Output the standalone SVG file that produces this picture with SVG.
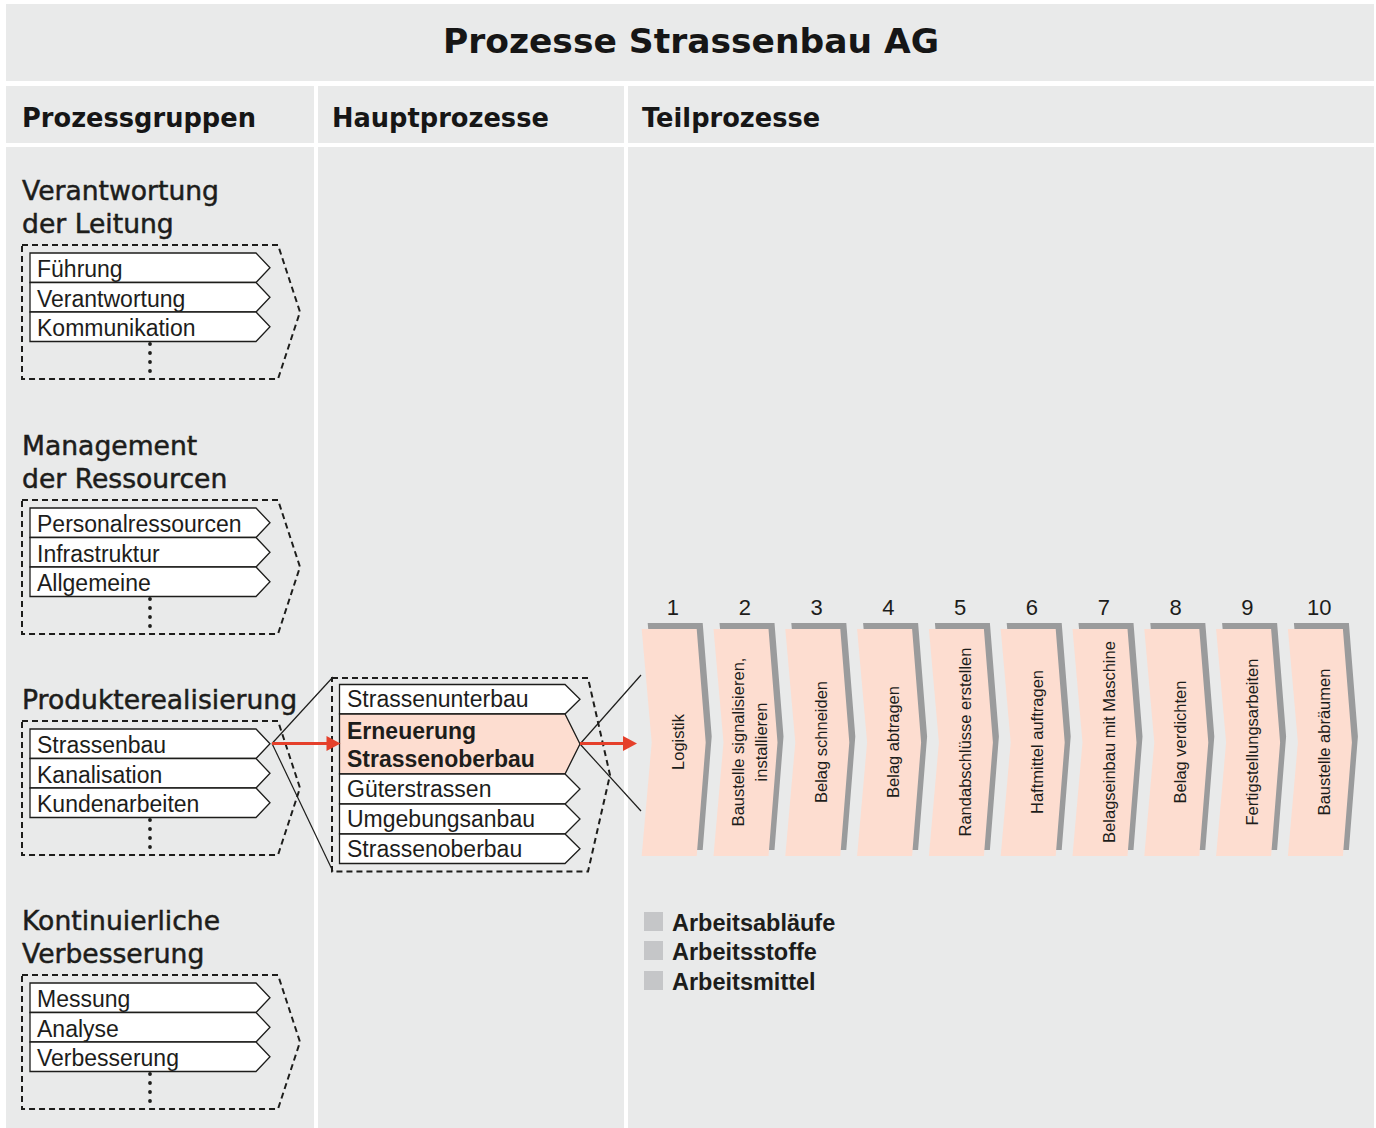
<svg xmlns="http://www.w3.org/2000/svg" xmlns:xlink="http://www.w3.org/1999/xlink" width="1376" height="1128" viewBox="0 0 1376 1128">
<style>
.panel{fill:#E9EAEA}
.hdr{font-family:"DejaVu Sans",sans-serif;font-weight:bold;fill:#161616}
.gt{font-family:"DejaVu Sans",sans-serif;font-size:26.6px;fill:#1d1d1b;stroke:#1d1d1b;stroke-width:0.5}
.it{font-family:"Liberation Sans",Arial,sans-serif;font-size:23px;fill:#1d1d1b}
.itb{font-family:"Liberation Sans",Arial,sans-serif;font-size:23px;font-weight:bold;fill:#1d1d1b}
.box{fill:#ffffff;stroke:#1d1d1b;stroke-width:1.3}
.dash{fill:none;stroke:#1d1d1b;stroke-width:2;stroke-dasharray:6 4}
.dots{stroke:#1d1d1b;stroke-width:3.8;stroke-linecap:round;stroke-dasharray:0 9}
.sh{fill:#9A9B9C}
.pe{fill:#FDDDD0}
.num{font-family:"Liberation Sans",Arial,sans-serif;font-size:22px;fill:#1d1d1b;text-anchor:middle}
.rt{font-family:"Liberation Sans",Arial,sans-serif;font-size:16.5px;fill:#1d1d1b;text-anchor:middle}
.thin{stroke:#1d1d1b;stroke-width:1.2;fill:none}
.red{stroke:#E5402B;stroke-width:3;fill:none}
.redh{fill:#E5402B}
.leg{fill:#C5C6C8}
.lt{font-family:"Liberation Sans",Arial,sans-serif;font-size:23.5px;font-weight:bold;fill:#1d1d1b}
</style>
<defs>
<polygon id="chevsh" points="6,623 61,623 70,736.5 61,850 6,850 16,736.5"/>
<polygon id="chev" points="0,629 55,629 64,742.5 55,856 0,856 10,742.5"/>
</defs>
<rect width="1376" height="1128" fill="#ffffff"/>
<!-- panels -->
<g id="panels">
<rect class="panel" x="6" y="4" width="1368" height="77"/>
<rect class="panel" x="6" y="86" width="308" height="57"/>
<rect class="panel" x="318" y="86" width="306" height="57"/>
<rect class="panel" x="628" y="86" width="746" height="57"/>
<rect class="panel" x="6" y="147" width="308" height="981"/>
<rect class="panel" x="318" y="147" width="306" height="981"/>
<rect class="panel" x="628" y="147" width="746" height="981"/>
</g>
<g id="title">
<text class="hdr" x="691" y="53" font-size="34.5" text-anchor="middle">Prozesse Strassenbau AG</text>
</g>
<g id="headers">
<text class="hdr" x="22" y="127" font-size="25.7">Prozessgruppen</text>
<text class="hdr" x="332" y="127" font-size="25.7">Hauptprozesse</text>
<text class="hdr" x="642" y="127" font-size="25.7">Teilprozesse</text>
</g>

<!-- Group 1 -->
<g id="grp-leitung">
<text class="gt" x="22" y="199.5">Verantwortung</text>
<text class="gt" x="22" y="233">der Leitung</text>
<polygon class="dash" points="22,245 278,245 300,312 278,379 22,379"/>
<polygon class="box" points="30,253 256,253 270,267.75 256,282.5 30,282.5"/>
<polygon class="box" points="30,282.5 256,282.5 270,297.25 256,312 30,312"/>
<polygon class="box" points="30,312 256,312 270,326.75 256,341.5 30,341.5"/>
<text class="it" x="37" y="277">Führung</text>
<text class="it" x="37" y="306.5">Verantwortung</text>
<text class="it" x="37" y="336">Kommunikation</text>
<line class="dots" x1="150" y1="344" x2="150" y2="372"/>
</g>

<!-- Group 2 -->
<g id="grp-ressourcen">
<text class="gt" x="22" y="454.5">Management</text>
<text class="gt" x="22" y="488">der Ressourcen</text>
<polygon class="dash" points="22,500 278,500 300,567 278,634 22,634"/>
<polygon class="box" points="30,508 256,508 270,522.75 256,537.5 30,537.5"/>
<polygon class="box" points="30,537.5 256,537.5 270,552.25 256,567 30,567"/>
<polygon class="box" points="30,567 256,567 270,581.75 256,596.5 30,596.5"/>
<text class="it" x="37" y="532">Personalressourcen</text>
<text class="it" x="37" y="561.5">Infrastruktur</text>
<text class="it" x="37" y="591">Allgemeine</text>
<line class="dots" x1="150" y1="599" x2="150" y2="627"/>
</g>

<!-- Group 3 -->
<g id="grp-produkt">
<text class="gt" x="22" y="708.5">Produkterealisierung</text>
<polygon class="dash" points="22,721 278,721 300,788 278,855 22,855"/>
<polygon class="box" points="30,729 256,729 270,743.75 256,758.5 30,758.5"/>
<polygon class="box" points="30,758.5 256,758.5 270,773.25 256,788 30,788"/>
<polygon class="box" points="30,788 256,788 270,802.75 256,817.5 30,817.5"/>
<text class="it" x="37" y="753">Strassenbau</text>
<text class="it" x="37" y="782.5">Kanalisation</text>
<text class="it" x="37" y="812">Kundenarbeiten</text>
<line class="dots" x1="150" y1="820" x2="150" y2="848"/>
</g>

<!-- Group 4 -->
<g id="grp-verbesserung">
<text class="gt" x="22" y="929.5">Kontinuierliche</text>
<text class="gt" x="22" y="963">Verbesserung</text>
<polygon class="dash" points="22,975 278,975 300,1042 278,1109 22,1109"/>
<polygon class="box" points="30,983 256,983 270,997.75 256,1012.5 30,1012.5"/>
<polygon class="box" points="30,1012.5 256,1012.5 270,1027.25 256,1042 30,1042"/>
<polygon class="box" points="30,1042 256,1042 270,1056.75 256,1071.5 30,1071.5"/>
<text class="it" x="37" y="1007">Messung</text>
<text class="it" x="37" y="1036.5">Analyse</text>
<text class="it" x="37" y="1066">Verbesserung</text>
<line class="dots" x1="150" y1="1074" x2="150" y2="1102"/>
</g>

<!-- Hauptprozesse -->
<g id="hauptprozesse">
<polygon class="dash" points="332,678 588,678 610,775 588,871.5 332,871.5"/>
<polygon class="box" points="339.5,684.5 565,684.5 580,699.25 565,714 339.5,714"/>
<polygon class="box" points="339.5,714 565,714 580,744 565,774 339.5,774" style="fill:#FDDDD0"/>
<polygon class="box" points="339.5,774 565,774 580,789 565,804 339.5,804"/>
<polygon class="box" points="339.5,804 565,804 580,819 565,834 339.5,834"/>
<polygon class="box" points="339.5,834 565,834 580,848.75 565,863.5 339.5,863.5"/>
<text class="it" x="347" y="707">Strassenunterbau</text>
<text class="itb" x="347" y="739">Erneuerung</text>
<text class="itb" x="347" y="766.5">Strassenoberbau</text>
<text class="it" x="347" y="797">Güterstrassen</text>
<text class="it" x="347" y="827">Umgebungsanbau</text>
<text class="it" x="347" y="856.5">Strassenoberbau</text>
</g>

<!-- Teilprozesse -->
<g id="tp1" transform="translate(641.7,0)">
<use xlink:href="#chevsh" class="sh"/><use xlink:href="#chev" class="pe"/>
<text class="num" x="31.3" y="615">1</text>
<text class="rt" transform="translate(42,742) rotate(-90)">Logistik</text>
</g>
<g id="tp2" transform="translate(713.5,0)">
<use xlink:href="#chevsh" class="sh"/><use xlink:href="#chev" class="pe"/>
<text class="num" x="31.3" y="615">2</text>
<text class="rt" transform="translate(30.5,742) rotate(-90)">Baustelle signalisieren,</text>
<text class="rt" transform="translate(53,742) rotate(-90)">installieren</text>
</g>
<g id="tp3" transform="translate(785.3,0)">
<use xlink:href="#chevsh" class="sh"/><use xlink:href="#chev" class="pe"/>
<text class="num" x="31.3" y="615">3</text>
<text class="rt" transform="translate(42,742) rotate(-90)">Belag schneiden</text>
</g>
<g id="tp4" transform="translate(857.1,0)">
<use xlink:href="#chevsh" class="sh"/><use xlink:href="#chev" class="pe"/>
<text class="num" x="31.3" y="615">4</text>
<text class="rt" transform="translate(42,742) rotate(-90)">Belag abtragen</text>
</g>
<g id="tp5" transform="translate(928.9,0)">
<use xlink:href="#chevsh" class="sh"/><use xlink:href="#chev" class="pe"/>
<text class="num" x="31.3" y="615">5</text>
<text class="rt" transform="translate(42,742) rotate(-90)">Randabschlüsse erstellen</text>
</g>
<g id="tp6" transform="translate(1000.7,0)">
<use xlink:href="#chevsh" class="sh"/><use xlink:href="#chev" class="pe"/>
<text class="num" x="31.3" y="615">6</text>
<text class="rt" transform="translate(42,742) rotate(-90)">Haftmittel auftragen</text>
</g>
<g id="tp7" transform="translate(1072.5,0)">
<use xlink:href="#chevsh" class="sh"/><use xlink:href="#chev" class="pe"/>
<text class="num" x="31.3" y="615">7</text>
<text class="rt" transform="translate(42,742) rotate(-90)">Belagseinbau mit Maschine</text>
</g>
<g id="tp8" transform="translate(1144.3,0)">
<use xlink:href="#chevsh" class="sh"/><use xlink:href="#chev" class="pe"/>
<text class="num" x="31.3" y="615">8</text>
<text class="rt" transform="translate(42,742) rotate(-90)">Belag verdichten</text>
</g>
<g id="tp9" transform="translate(1216.1,0)">
<use xlink:href="#chevsh" class="sh"/><use xlink:href="#chev" class="pe"/>
<text class="num" x="31.3" y="615">9</text>
<text class="rt" transform="translate(42,742) rotate(-90)">Fertigstellungsarbeiten</text>
</g>
<g id="tp10" transform="translate(1287.9,0)">
<use xlink:href="#chevsh" class="sh"/><use xlink:href="#chev" class="pe"/>
<text class="num" x="31.3" y="615">10</text>
<text class="rt" transform="translate(42,742) rotate(-90)">Baustelle abräumen</text>
</g>

<!-- Legend -->
<g id="legend">
<rect class="leg" x="644" y="912" width="19" height="19"/>
<rect class="leg" x="644" y="941" width="19" height="19"/>
<rect class="leg" x="644" y="971" width="19" height="19"/>
<text class="lt" x="672" y="930.5">Arbeitsabläufe</text>
<text class="lt" x="672" y="960">Arbeitsstoffe</text>
<text class="lt" x="672" y="989.5">Arbeitsmittel</text>
</g>

<!-- Connectors -->
<g id="connectors">
<line class="thin" x1="272" y1="743.5" x2="333" y2="677"/>
<line class="thin" x1="272" y1="743.5" x2="333" y2="871.5"/>
<line class="thin" x1="580" y1="744" x2="641" y2="675"/>
<line class="thin" x1="580" y1="744" x2="641" y2="811"/>
<line class="red" x1="272" y1="743.5" x2="328" y2="743.5"/>
<polygon class="redh" points="326.5,736 340.5,743.5 326.5,751"/>
<line class="red" x1="580" y1="743.5" x2="624" y2="743.5"/>
<polygon class="redh" points="623,736 637,743.5 623,751"/>
</g>
</svg>
